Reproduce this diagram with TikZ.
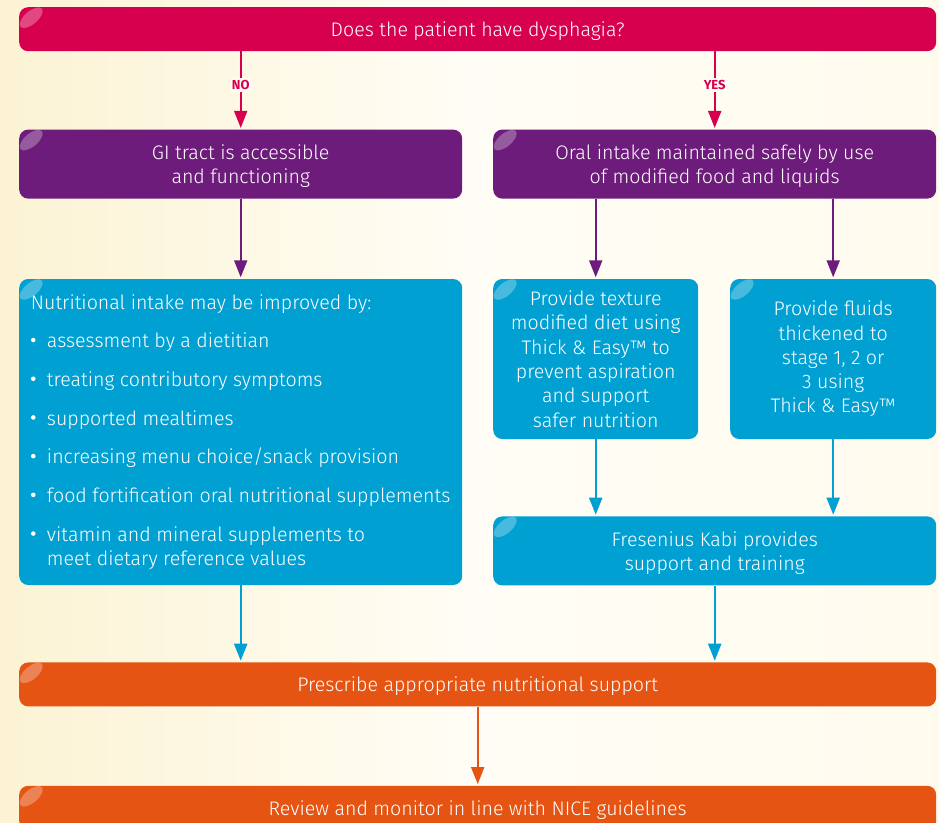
\documentclass[tikz,border=0pt]{standalone}
\usepackage{fontspec}
\IfFontExistsTF{Fira Sans Light}{\setmainfont{Fira Sans Light}}{\setmainfont{Fira Sans}}
\newfontfamily\lblfont{Fira Sans}
\usetikzlibrary{arrows.meta,positioning,calc}
\definecolor{dysred}{HTML}{D6004F}
\definecolor{dyspurple}{HTML}{6E1C7B}
\definecolor{dysblue}{HTML}{00A0D2}
\definecolor{dysorange}{HTML}{E55413}
\definecolor{bgcream}{HTML}{FCF3D4}
\definecolor{bglight}{HTML}{FFFDF5}
\newcommand{\bulitem}[1]{\makebox[16pt][l]{\raisebox{.28em}{\tikz\fill[white] (0,0) circle (2.3pt);}}#1}
\tikzset{
  box/.style   ={rectangle, rounded corners=9pt, text=white, inner sep=0pt,
                 align=center, font=\fontsize{19.6}{24.3}\selectfont,
                 path picture={\fill[white, opacity=.28]
                   ([shift={(12pt,-10.5pt)}]path picture bounding box.north west)
                   ellipse [x radius=14pt, y radius=6.5pt, rotate=40];}},
  widebox/.style={box, minimum width=917pt, minimum height=44pt, text depth=0pt},
  halfbox/.style={box, minimum width=443pt, minimum height=69pt, text depth=0pt},
  lbl/.style   ={fill=bglight, inner xsep=1pt, inner ysep=2pt,
                 font=\lblfont\bfseries\fontsize{13}{13}\selectfont},
  arr/.style   ={-{Triangle[length=17pt, width=13pt]}, line width=2pt,
                 shorten >=1.5pt},
}
\begin{document}
\begin{tikzpicture}[x=1pt, y=-1pt]
\useasboundingbox (0,0) rectangle (939,822);
\clip (0,0) rectangle (939,822);
\shade[left color=bgcream, right color=bglight!80!bgcream, middle color=bglight]
  (0,0) rectangle (939,822);

\node[widebox, fill=dysred, anchor=north west] (top) at (19,7)
  {Does the patient have dysphagia?};

\node[halfbox, fill=dyspurple, below=78pt of top.south west, anchor=north west] (gi)
  {GI tract is accessible\\and functioning};
\node[halfbox, fill=dyspurple, below=78pt of top.south east, anchor=north east] (oral)
  {Oral intake maintained safely by use\\of modified food and liquids};

\node[box, fill=dysblue, align=left, minimum width=443pt, minimum height=306pt,
      below=80pt of gi.south west, anchor=north west] (nutri)
  {Nutritional intake may be improved by:\\[14.4pt]
   \bulitem{assessment by a dietitian}\\[14.4pt]
   \bulitem{treating contributory symptoms}\\[14.4pt]
   \bulitem{supported mealtimes}\\[14.4pt]
   \bulitem{increasing menu choice/snack provision}\\[14.4pt]
   \bulitem{food fortification oral nutritional supplements}\\[14.4pt]
   \bulitem{vitamin and mineral supplements to}\\
   \hspace*{16pt}meet dietary reference values};

\node[box, fill=dysblue, minimum width=205pt, minimum height=160pt,
      below=80pt of oral.south west, anchor=north west] (texture)
  {Provide texture\\modified diet using\\Thick \& Easy™ to\\prevent aspiration\\
   and support\\safer nutrition};
\node[box, fill=dysblue, minimum width=206pt, minimum height=160pt,
      below=80pt of oral.south east, anchor=north east] (fluids)
  {Provide fluids\\thickened to\\stage 1, 2 or\\3 using\\Thick \& Easy™};

\node[halfbox, fill=dysblue, below=77pt of texture.south west, anchor=north west] (fres)
  {Fresenius Kabi provides\\support and training};

\node[widebox, fill=dysorange, below=77pt of nutri.south west, anchor=north west] (presc)
  {Prescribe appropriate nutritional support};
\node[widebox, fill=dysorange, below=79pt of presc.south west, anchor=north west] (review)
  {Review and monitor in line with NICE guidelines};

% connectors
\draw[arr, dysred] (gi.north |- top.south) -- node[lbl, text=dysred, pos=.43] {NO} (gi.north);
\draw[arr, dysred] (oral.north |- top.south) -- node[lbl, text=dysred, pos=.43] {YES} (oral.north);
\draw[arr, dyspurple] (gi) -- (nutri);
\draw[arr, dyspurple] (texture.north |- oral.south) -- (texture);
\draw[arr, dyspurple] (fluids.north |- oral.south) -- (fluids);
\draw[arr, dysblue] (texture) -- (texture.south |- fres.north);
\draw[arr, dysblue] (fluids) -- (fluids.south |- fres.north);
\draw[arr, dysblue] (nutri) -- (nutri.south |- presc.north);
\draw[arr, dysblue] (fres) -- (fres.south |- presc.north);
\draw[arr, dysorange] (presc) -- (presc.south |- review.north);
\end{tikzpicture}
\end{document}
